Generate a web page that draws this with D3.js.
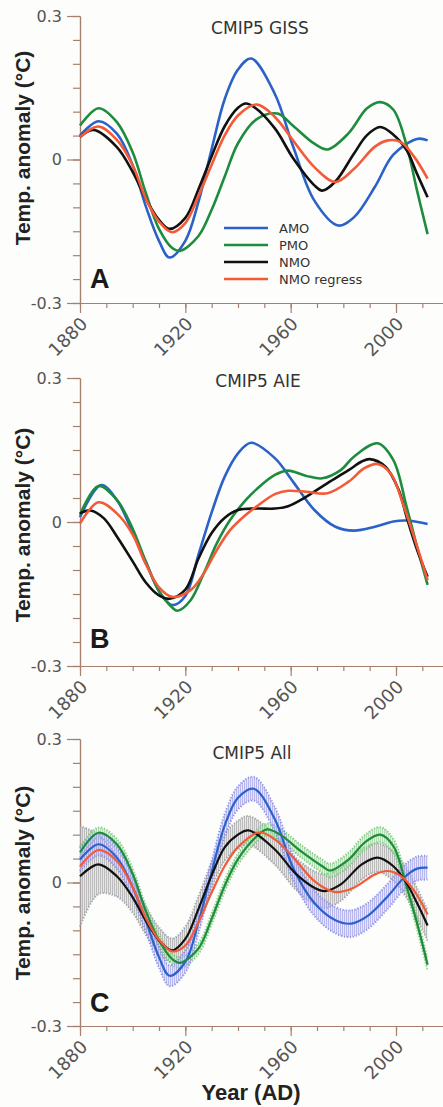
<!DOCTYPE html>
<html>
<head>
<meta charset="utf-8">
<script src="https://cdnjs.cloudflare.com/ajax/libs/d3/7.8.5/d3.min.js"></script>
<style>
  html, body { margin: 0; padding: 0; background: #fdfdfb; }
  svg { display: block; }
</style>
</head>
<body>
<div id="d3"></div>
<script>
(function() {

  var width = 443;
  var height = 1107;

  // tick labels
  var yearTicks = [1880, 1920, 1960, 2000];
  var yearMinor = [1880, 1890, 1900, 1910, 1920, 1930, 1940, 1950, 1960, 1970, 1980, 1990, 2000, 2010];
  var tempTicks = [-0.3, 0, 0.3];
  var tempMinor = [-0.3, -0.25, -0.2, -0.15, -0.1, -0.05, 0, 0.05, 0.1, 0.15, 0.2, 0.25, 0.3];

  var seriesNames = ["AMO", "PMO", "NMO", "NMO regress"];
  var panelTitles = ["CMIP5 GISS", "CMIP5 AIE", "CMIP5 All"];
  var panelLetters = ["A", "B", "C"];

  // panel A : CMIP5 GISS  [year, anomaly]
  var gissAMO = [[1880,0.050],[1887,0.080],[1894,0.054],[1900,-0.012],[1905,-0.098],[1910,-0.170],[1914,-0.205],[1920,-0.170],[1925,-0.088],[1930,0.022],[1935,0.127],[1940,0.188],[1945,0.211],[1954,0.137],[1961,0.026],[1969,-0.086],[1978,-0.138],[1984,-0.121],[1992,-0.057],[1999,0.010],[2008,0.043],[2012,0.040]];
  var gissPMO = [[1880,0.071],[1887,0.107],[1894,0.078],[1900,0.015],[1905,-0.070],[1910,-0.145],[1915,-0.185],[1918,-0.191],[1925,-0.160],[1930,-0.105],[1935,-0.035],[1940,0.034],[1947,0.084],[1955,0.096],[1961,0.070],[1969,0.033],[1974,0.021],[1982,0.055],[1989,0.107],[1994,0.120],[1999,0.104],[2004,0.030],[2008,-0.065],[2012,-0.156]];
  var gissNMO = [[1880,0.047],[1885,0.062],[1894,0.026],[1900,-0.026],[1905,-0.082],[1910,-0.126],[1914,-0.145],[1920,-0.122],[1925,-0.062],[1930,0.007],[1935,0.070],[1940,0.108],[1943,0.117],[1946,0.110],[1954,0.065],[1961,0.002],[1969,-0.054],[1972,-0.065],[1977,-0.046],[1984,0.012],[1989,0.051],[1994,0.068],[1999,0.052],[2004,0.020],[2008,-0.030],[2012,-0.079]];
  var gissNMOreg = [[1880,0.047],[1887,0.069],[1894,0.041],[1900,-0.012],[1905,-0.082],[1910,-0.130],[1915,-0.152],[1920,-0.133],[1925,-0.076],[1930,-0.011],[1935,0.051],[1940,0.092],[1947,0.115],[1954,0.089],[1961,0.039],[1969,-0.016],[1977,-0.047],[1984,-0.020],[1992,0.027],[1997,0.040],[2002,0.036],[2007,0.005],[2012,-0.040]];

  // panel B : CMIP5 AIE
  var aieAMO = [[1880,0.010],[1888,0.077],[1894,0.046],[1900,-0.022],[1905,-0.083],[1910,-0.144],[1915,-0.173],[1920,-0.154],[1925,-0.068],[1930,0.020],[1935,0.095],[1940,0.143],[1945,0.165],[1954,0.133],[1961,0.083],[1969,0.025],[1977,-0.010],[1984,-0.018],[1992,-0.010],[1999,0.001],[2004,0.003],[2012,-0.004]];
  var aiePMO = [[1880,0.015],[1887,0.075],[1894,0.046],[1900,-0.014],[1905,-0.083],[1910,-0.144],[1915,-0.178],[1917,-0.185],[1922,-0.163],[1927,-0.107],[1932,-0.044],[1937,0.004],[1943,0.046],[1947,0.068],[1954,0.098],[1959,0.107],[1966,0.096],[1972,0.091],[1979,0.108],[1984,0.136],[1993,0.164],[1999,0.129],[2004,0.032],[2008,-0.052],[2012,-0.131]];
  var aieNMO = [[1880,0.018],[1884,0.024],[1889,0.008],[1894,-0.030],[1900,-0.082],[1905,-0.126],[1910,-0.153],[1914,-0.160],[1920,-0.141],[1925,-0.076],[1930,-0.023],[1935,0.009],[1940,0.025],[1947,0.028],[1954,0.028],[1959,0.033],[1966,0.053],[1974,0.081],[1982,0.108],[1987,0.126],[1990,0.131],[1996,0.115],[2001,0.067],[2004,0.011],[2008,-0.058],[2012,-0.114]];
  var aieNMOreg = [[1880,-0.003],[1887,0.041],[1894,0.018],[1900,-0.026],[1905,-0.088],[1910,-0.136],[1915,-0.156],[1922,-0.142],[1927,-0.107],[1932,-0.058],[1937,-0.017],[1943,0.015],[1947,0.032],[1954,0.058],[1959,0.065],[1966,0.063],[1974,0.060],[1982,0.084],[1988,0.112],[1993,0.121],[1998,0.101],[2003,0.032],[2008,-0.051],[2012,-0.121]];

  // panel C : CMIP5 All
  var allAMO = [[1880,0.048],[1887,0.080],[1894,0.052],[1900,-0.010],[1905,-0.080],[1910,-0.156],[1914,-0.195],[1920,-0.166],[1925,-0.083],[1930,0.022],[1935,0.120],[1940,0.177],[1946,0.196],[1954,0.132],[1961,0.030],[1969,-0.043],[1977,-0.079],[1983,-0.086],[1989,-0.071],[1997,-0.028],[2003,0.010],[2008,0.029],[2012,0.031]];
  var allPMO = [[1880,0.063],[1887,0.104],[1894,0.080],[1900,0.018],[1905,-0.060],[1910,-0.121],[1915,-0.160],[1918,-0.168],[1925,-0.138],[1930,-0.076],[1935,-0.006],[1940,0.049],[1947,0.096],[1951,0.111],[1956,0.100],[1964,0.065],[1972,0.034],[1975,0.025],[1982,0.048],[1988,0.083],[1994,0.100],[1999,0.076],[2004,-0.008],[2008,-0.085],[2012,-0.172]];
  var allNMO = [[1880,0.013],[1887,0.038],[1894,0.013],[1900,-0.031],[1905,-0.080],[1910,-0.121],[1915,-0.142],[1920,-0.118],[1925,-0.055],[1930,0.015],[1935,0.074],[1940,0.100],[1944,0.109],[1954,0.069],[1962,0.018],[1969,-0.011],[1973,-0.018],[1979,-0.004],[1987,0.038],[1993,0.052],[1999,0.034],[2004,-0.001],[2008,-0.043],[2012,-0.090]];
  var allNMOreg = [[1880,0.033],[1887,0.068],[1894,0.045],[1900,-0.010],[1905,-0.074],[1910,-0.120],[1915,-0.144],[1920,-0.132],[1925,-0.083],[1930,-0.021],[1935,0.035],[1940,0.074],[1948,0.105],[1954,0.090],[1962,0.046],[1969,0.003],[1977,-0.020],[1984,-0.011],[1992,0.017],[1997,0.024],[2002,0.013],[2007,-0.018],[2012,-0.067]];

  // panel C spread (half width) [year, +/-]
  var allAMOspread = [[1880,0.024],[1915,0.022],[1946,0.025],[1983,0.028],[2012,0.025]];
  var allPMOspread = [[1880,0.011],[1950,0.012],[1993,0.016],[2012,0.013]];
  var allNMOspread = [[1880,0.105],[1884,0.075],[1890,0.050],[1900,0.032],[1915,0.025],[1944,0.030],[1975,0.036],[1993,0.030],[2012,0.032]];

  var colors = ["#2b62c8", "#1e8c3e", "#111111", "#f45a38"];
  var axisColor = "#a6806f";

  var panels = [
    {top: 16, bottom: 303, titleX: 260, titleY: 34, yTitle: 148, letterY: 288, legend: true,
     series: [gissAMO, gissPMO, gissNMO, gissNMOreg], width: 2.6},
    {top: 378, bottom: 666, titleX: 258, titleY: 387, yTitle: 525, letterY: 648, legend: false,
     series: [aieAMO, aiePMO, aieNMO, aieNMOreg], width: 2.6},
    {top: 739, bottom: 1026, titleX: 252, titleY: 759, yTitle: 883, letterY: 1012, legend: false,
     series: [allAMO, allPMO, allNMO, allNMOreg], width: 2.2,
     bands: [
       {data: allNMO, spread: allNMOspread, fill: "#a9a9a9", edge: "#8d97a6"},
       {data: allPMO, spread: allPMOspread, fill: "#9fd69f", edge: "#6cc06c"},
       {data: allAMO, spread: allAMOspread, fill: "#a4a4ec", edge: "#7d84e4"}
     ]}
  ];

  var x = d3.scaleLinear()
    .domain([1880, 2018])
    .range([80, 443.4]);

  function styleAxis(g) {
    g.select(".domain").attr("stroke", axisColor).attr("stroke-width", 1.2);
    g.selectAll(".tick line").attr("stroke", axisColor).attr("stroke-width", 1.2);
  }

  function drawPanel(svg, p, i) {
    var y = d3.scaleLinear()
      .domain([-0.3, 0.3])
      .range([p.bottom, p.top]);

    var g = svg.append("g");

    // y axis
    g.append("g")
      .attr("transform", "translate(80,0)")
      .call(d3.axisLeft(y).tickValues(tempMinor).tickSize(7).tickSizeOuter(0).tickFormat(""))
      .call(styleAxis);
    var gy = g.append("g")
      .attr("transform", "translate(80,0)")
      .call(d3.axisLeft(y).tickValues(tempTicks).tickSize(13).tickPadding(5).tickSizeOuter(0)
        .tickFormat(d => d === 0 ? "0" : String(d)))
      .call(styleAxis);
    gy.selectAll("text")
      .attr("fill", "#555")
      .attr("font-family", "DejaVu Sans, sans-serif")
      .attr("font-size", 16);

    // x axis
    g.append("g")
      .attr("transform", `translate(0,${p.bottom})`)
      .call(d3.axisBottom(x).tickValues(yearMinor).tickSize(5).tickSizeOuter(0).tickFormat(""))
      .call(styleAxis);
    var gx = g.append("g")
      .attr("transform", `translate(0,${p.bottom})`)
      .call(d3.axisBottom(x).tickValues(yearTicks).tickSize(10).tickSizeOuter(0).tickFormat(d3.format("d")))
      .call(styleAxis);
    gx.selectAll("text")
      .attr("y", 0).attr("dy", null)
      .attr("transform", "translate(8,22) rotate(-45)")
      .attr("text-anchor", "end")
      .attr("fill", "#555")
      .attr("font-family", "DejaVu Sans, sans-serif")
      .attr("font-size", 18);

    // spread bands
    (p.bands || []).forEach(function(b, k) {
      var sp = d3.scaleLinear().domain(b.spread.map(d => d[0])).range(b.spread.map(d => d[1]));
      var pts = b.data.map(d => [d[0], d[1] - sp(d[0]), d[1] + sp(d[0])]);
      var pid = "hatch" + i + "_" + k;
      var pat = svg.select("defs").append("pattern")
        .attr("id", pid)
        .attr("patternUnits", "userSpaceOnUse")
        .attr("width", 2).attr("height", 4);
      pat.append("rect").attr("width", 1).attr("height", 4).attr("fill", b.fill).attr("opacity", 0.7);

      var area = d3.area()
        .x(d => x(d[0])).y0(d => y(d[1])).y1(d => y(d[2]))
        .curve(d3.curveCatmullRom.alpha(0.5));
      g.append("path").datum(pts).attr("d", area)
        .attr("fill", b.fill).attr("fill-opacity", 0.25);
      g.append("path").datum(pts).attr("d", area)
        .attr("fill", `url(#${pid})`);
      [1, 2].forEach(function(j) {
        g.append("path").datum(pts)
          .attr("d", d3.line().x(d => x(d[0])).y(d => y(d[j])).curve(d3.curveCatmullRom.alpha(0.5)))
          .attr("fill", "none")
          .attr("stroke", b.edge)
          .attr("stroke-width", 2)
          .attr("stroke-dasharray", "1.2,1.8")
          .attr("opacity", 0.8);
      });
    });

    // series lines
    var line = d3.line()
      .x(d => x(d[0]))
      .y(d => y(d[1]))
      .curve(d3.curveCatmullRom.alpha(0.5));
    g.selectAll(".series")
      .data(p.series)
      .join("path")
      .attr("class", "series")
      .attr("d", line)
      .attr("fill", "none")
      .attr("stroke", (d, k) => colors[k])
      .attr("stroke-width", p.width)
      .attr("stroke-linejoin", "round");

    // titles
    g.append("text")
      .attr("x", p.titleX).attr("y", p.titleY)
      .attr("text-anchor", "middle")
      .attr("fill", "#333")
      .attr("font-family", "DejaVu Sans, sans-serif")
      .attr("font-size", 17)
      .text(panelTitles[i]);

    g.append("text")
      .attr("x", 90).attr("y", p.letterY)
      .attr("fill", "#1a1a1a")
      .attr("font-family", "'Liberation Sans Narrow', 'Liberation Sans', sans-serif")
      .attr("font-weight", "bold")
      .attr("font-size", 27)
      .text(panelLetters[i]);

    g.append("text")
      .attr("transform", `translate(30,${p.yTitle}) rotate(-90)`)
      .attr("text-anchor", "middle")
      .attr("fill", "#222")
      .attr("font-family", "'Liberation Sans', Arial, sans-serif")
      .attr("font-weight", "bold")
      .attr("font-size", 21)
      .text("Temp. anomaly (°C)");

    if (p.legend) {
      var lg = g.append("g").attr("transform", "translate(224,228)");
      var row = lg.selectAll("g")
        .data(seriesNames)
        .join("g")
        .attr("transform", (d, k) => `translate(0,${k * 17})`);
      row.append("line")
        .attr("x1", 0).attr("x2", 44)
        .attr("stroke", (d, k) => colors[k])
        .attr("stroke-width", 2.6);
      row.append("text")
        .attr("x", 55).attr("y", 5)
        .attr("fill", "#333")
        .attr("font-family", "DejaVu Sans, sans-serif")
        .attr("font-size", 13)
        .text(d => d);
    }
  }

  function displaygraph() {
    const svg = d3.select("#d3")
      .append("svg")
      .attr("width", width)
      .attr("height", height);
    svg.append("defs");
    svg.append("rect").attr("width", width).attr("height", height).attr("fill", "#fdfdfb");

    panels.forEach((p, i) => drawPanel(svg, p, i));

    svg.append("text")
      .attr("x", 251).attr("y", 1100)
      .attr("text-anchor", "middle")
      .attr("fill", "#222")
      .attr("font-family", "'Liberation Sans', Arial, sans-serif")
      .attr("font-weight", "bold")
      .attr("font-size", 22)
      .text("Year (AD)");
  }

  window.addEventListener('load', function() {
    displaygraph();
  });
})();
</script>
</body>
</html>
